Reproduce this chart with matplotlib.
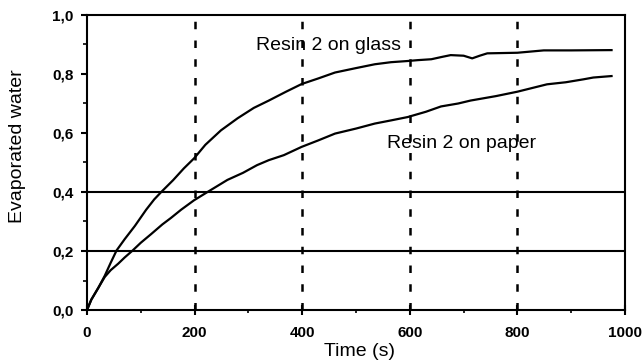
import numpy as np
import matplotlib
matplotlib.use('Agg')
import matplotlib.pyplot as plt
from matplotlib.ticker import MultipleLocator

plt.rcParams['font.family'] = ['Liberation Sans', 'DejaVu Sans']

# Resin 2 on glass
glass_t = [0, 8, 21, 33, 44, 55, 70, 89, 110, 125, 138, 160, 180, 199, 220, 249,
           280, 310, 338, 370, 399, 430, 461, 500, 535, 565, 596, 615, 640, 660,
           676, 700, 716, 730, 744, 800, 849, 900, 975]
glass_v = [0, 0.035, 0.075, 0.116, 0.16, 0.202, 0.24, 0.285, 0.34, 0.375, 0.40,
           0.44, 0.48, 0.514, 0.56, 0.609, 0.65, 0.685, 0.71, 0.74, 0.766, 0.785,
           0.805, 0.82, 0.833, 0.84, 0.844, 0.847, 0.85, 0.858, 0.864, 0.862,
           0.853, 0.862, 0.87, 0.872, 0.88, 0.88, 0.881]

# Resin 2 on paper
paper_t = [0, 8, 21, 33, 44, 58, 70, 85, 100, 119, 140, 156, 175, 199, 224, 261,
           290, 316, 338, 366, 399, 430, 461, 500, 535, 566, 596, 630, 658, 690,
           713, 760, 800, 855, 890, 923, 941, 975]
paper_v = [0, 0.035, 0.075, 0.112, 0.135, 0.157, 0.178, 0.202, 0.228, 0.257, 0.29,
           0.312, 0.34, 0.372, 0.40, 0.441, 0.465, 0.491, 0.508, 0.525, 0.553,
           0.575, 0.598, 0.615, 0.632, 0.643, 0.654, 0.672, 0.69, 0.70, 0.71,
           0.725, 0.74, 0.765, 0.772, 0.782, 0.788, 0.793]

x_ticks = [0, 200, 400, 600, 800, 1000]
y_ticks = [0.0, 0.2, 0.4, 0.6, 0.8, 1.0]
y_ticklabels = ['0,0', '0,2', '0,4', '0,6', '0,8', '1,0']
hgrid = [0.2, 0.4]
vgrid = [200, 400, 600, 800]

fig = plt.figure(figsize=(6.43, 3.63), dpi=100)
ax = fig.add_axes([0.1353, 0.146, 0.8367, 0.8127])

for y in hgrid:
    ax.axhline(y, color='black', lw=1.5, zorder=1)
for x in vgrid:
    ax.axvline(x, color='black', lw=1.8, linestyle=(0, (3, 4.5)), zorder=1)

ax.plot(glass_t, glass_v, color='black', lw=1.6, zorder=3)
ax.plot(paper_t, paper_v, color='black', lw=1.6, zorder=3)

ax.text(315, 0.883, 'Resin 2 on glass', fontsize=14, ha='left', va='baseline')
ax.text(558, 0.549, 'Resin 2 on paper', fontsize=14, ha='left', va='baseline')

ax.set_xlim(0, 1000)
ax.set_ylim(0, 1.0)
ax.set_xticks(x_ticks)
ax.set_xticklabels([str(v) for v in x_ticks], fontweight='bold', fontsize=11)
ax.set_yticks(y_ticks)
ax.set_yticklabels(y_ticklabels, fontweight='bold', fontsize=11)
ax.xaxis.set_minor_locator(MultipleLocator(100))
ax.yaxis.set_minor_locator(MultipleLocator(0.1))
ax.tick_params(axis='x', which='major', direction='inout', length=7, width=1.5, pad=8)
ax.tick_params(axis='x', which='minor', direction='out', length=2.5, width=1.2)
ax.tick_params(axis='y', which='major', direction='out', length=4.5, width=1.5, pad=5)
ax.tick_params(axis='y', which='minor', direction='out', length=3, width=1.2)
for s in ax.spines.values():
    s.set_linewidth(1.5)

ax.text(-0.129, 0.556, 'Evaporated water', fontsize=14, rotation=90,
        ha='center', va='center', transform=ax.transAxes)
ax.text(0.506, -0.142, 'Time (s)', fontsize=14, ha='center', va='center',
        transform=ax.transAxes)

fig.savefig('out.png', dpi=100)
